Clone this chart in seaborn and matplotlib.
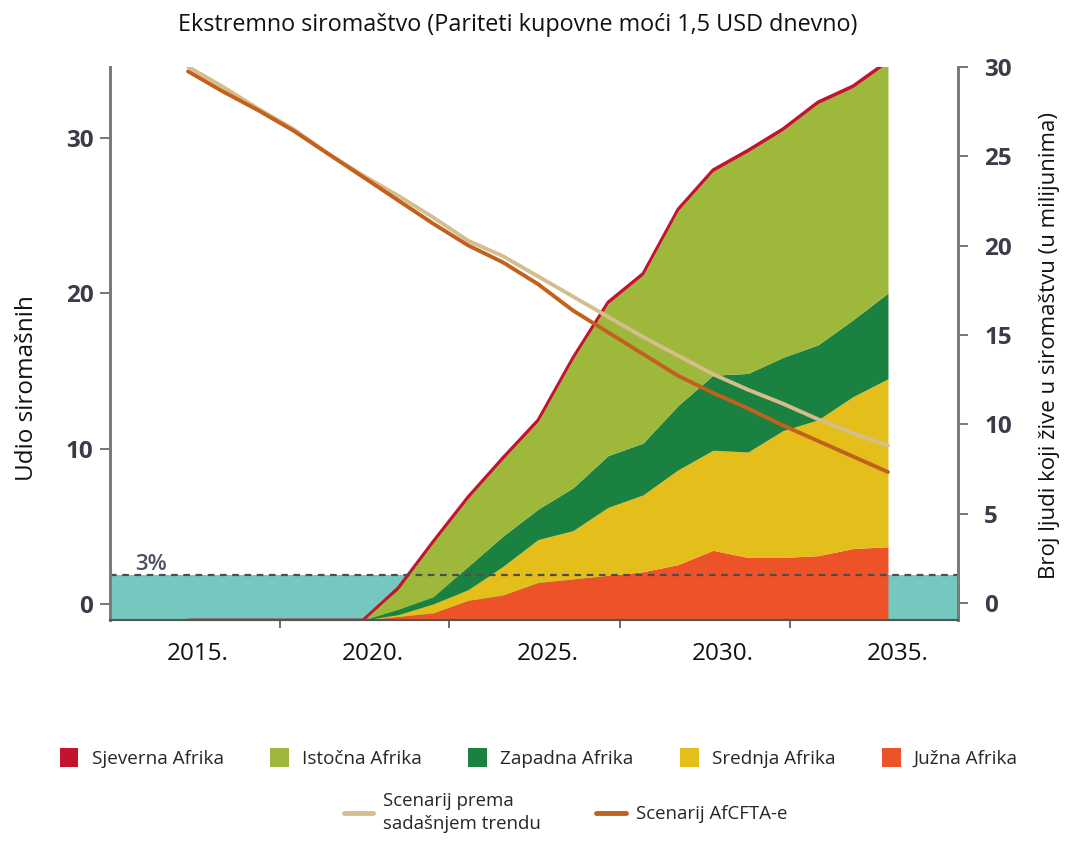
import matplotlib
matplotlib.use("Agg")
import matplotlib.pyplot as plt
import matplotlib.transforms as mtransforms
from matplotlib.patches import Patch
from matplotlib.lines import Line2D
import seaborn as sns
import numpy as np
import pandas as pd

sns.set_theme(style="white")
plt.rcParams['font.family'] = ['Open Sans', 'DejaVu Sans']

# --- data ---
years = [2015, 2016, 2017, 2018, 2019, 2020, 2021, 2022, 2023, 2024, 2025,
         2026, 2027, 2028, 2029, 2030, 2031, 2032, 2033, 2034, 2035]

# share of poor (left axis)
trend_share = [34.6, 33.3, 31.9, 30.6, 29.0, 27.6, 26.3, 24.9, 23.4, 22.4, 21.1,
               19.8, 18.5, 17.2, 16.0, 14.8, 13.8, 12.9, 11.9, 11.0, 10.2]
afcfta_share = [34.3, 33.0, 31.8, 30.5, 29.0, 27.5, 26.0, 24.5, 23.1, 22.0, 20.6,
                18.9, 17.5, 16.1, 14.7, 13.6, 12.6, 11.5, 10.5, 9.5, 8.5]

# people in poverty by region, millions (right axis), stacked
juzna = [0, 0, 0, 0, 0, 0, 0.2, 0.4, 1.1, 1.4, 2.1,
         2.3, 2.5, 2.7, 3.1, 3.9, 3.5, 3.5, 3.6, 4.0, 4.1]
srednja = [0, 0, 0, 0, 0, 0, 0.1, 0.5, 0.6, 1.6, 2.4,
           2.7, 3.8, 4.3, 5.3, 5.6, 5.9, 7.1, 7.6, 8.5, 9.4]
zapadna = [0, 0, 0, 0, 0, 0, 0.3, 0.4, 1.3, 1.7, 1.7,
           2.4, 2.9, 2.9, 3.6, 4.2, 4.4, 4.1, 4.2, 4.3, 4.8]
istocna = [0, 0, 0, 0, 0, 0, 1.1, 3.0, 3.8, 4.3, 4.9,
           7.2, 8.5, 9.4, 10.9, 11.4, 12.4, 12.7, 13.5, 13.0, 12.9]
sjeverna = [0, 0, 0, 0, 0, 0, 0.1, 0.1, 0.1, 0.1, 0.1,
            0.1, 0.1, 0.1, 0.1, 0.1, 0.1, 0.1, 0.1, 0.1, 0.1]

regions = ["Južna Afrika", "Srednja Afrika", "Zapadna Afrika", "Istočna Afrika", "Sjeverna Afrika"]
region_colors = ["#EE5229", "#E4BF1C", "#1B8140", "#9EB83B", "#C2142E"]
legend_order = ["Sjeverna Afrika", "Istočna Afrika", "Zapadna Afrika", "Srednja Afrika", "Južna Afrika"]

scenarios = ["Scenarij prema\nsadašnjem trendu", "Scenarij AfCFTA-e"]
scenario_colors = ["#D6BD8E", "#C2601D"]

threshold_label = "3%"
threshold_right = 1.57   # position of dashed line on right scale

# --- figure ---
fig = plt.figure(figsize=(10.65, 8.41), dpi=100)
ax = fig.add_axes([0.1033, 0.2628, 0.7962, 0.6575])   # right scale (areas)
axl = ax.twinx()                                       # left scale (lines)

right_floor = -0.95
ax.set_ylim(right_floor, 30)
axl.set_ylim(-1.03, 34.58)
ax.set_xlim(2012.77, 2037.0)

# teal band + stacked areas
ax.axhspan(right_floor, threshold_right, color="#74C8BF", zorder=0, lw=0)
layers = [juzna, srednja, zapadna, istocna, sjeverna]
base = np.full(len(years), right_floor)
for vals, col in zip(layers, region_colors):
    top = base + np.array(vals)
    ax.fill_between(years, base, top, color=col, lw=0, zorder=1)
    base = top
ax.plot(years, base, color=region_colors[-1], lw=2, zorder=2)
ax.axhline(threshold_right, color="#4d4d4d", lw=1.6, ls=(0, (3, 2.5)), zorder=3)
ax.text(2013.5, threshold_right + 0.3, threshold_label, fontsize=16, color="#4a5066",
        fontweight="semibold", zorder=4)

# scenario lines
lines_df = pd.DataFrame({
    "year": years * 2,
    "share": trend_share + afcfta_share,
    "scenario": [scenarios[0]] * len(years) + [scenarios[1]] * len(years),
})
sns.lineplot(data=lines_df, x="year", y="share", hue="scenario",
             palette=dict(zip(scenarios, scenario_colors)), lw=2.8, ax=axl, legend=False)

# axes cosmetics
ax.yaxis.tick_right()
ax.yaxis.set_label_position("right")
axl.yaxis.tick_left()
axl.yaxis.set_label_position("left")

ax.set_yticks([0, 5, 10, 15, 20, 25, 30])
axl.set_yticks([0, 10, 20, 30])
ax.set_xticks([2015, 2020, 2025, 2030, 2035])
ax.set_xticklabels(["2015.", "2020.", "2025.", "2030.", "2035."])
ax.set_xticks([2017.63, 2022.46, 2027.34, 2032.2], minor=True)

tick_col = "#3c3c48"
ax.tick_params(axis="y", which="major", right=True, length=7, width=1.4, color="#777777",
               labelsize=17.5, labelcolor=tick_col, pad=12)
axl.tick_params(axis="y", which="major", left=True, length=7, width=1.4, color="#777777",
                labelsize=17.5, labelcolor=tick_col, pad=5)
for lbl in ax.get_yticklabels() + axl.get_yticklabels():
    lbl.set_fontweight("bold")
ax.tick_params(axis="x", which="major", bottom=True, length=0, labelsize=17.5, labelcolor="#111111", pad=16)
ax.tick_params(axis="x", which="minor", bottom=True, length=6, width=1.2, color="#555555")
shift = mtransforms.ScaledTranslation(10 / 100, 0, fig.dpi_scale_trans)
for lbl in ax.get_xticklabels():
    lbl.set_transform(lbl.get_transform() + shift)

for a in (ax, axl):
    a.spines["top"].set_visible(False)
    a.spines["left"].set_color("#7a7a7a")
    a.spines["right"].set_color("#7a7a7a")
    a.spines["left"].set_linewidth(2)
    a.spines["right"].set_linewidth(2)
    a.spines["bottom"].set_color("#555555")
    a.spines["bottom"].set_linewidth(1.5)
    a.grid(False)

axl.set_ylabel("Udio siromašnih", fontsize=17.5, color="#111111")
axl.yaxis.set_label_coords(-0.084, 0.42)
ax.set_ylabel("Broj ljudi koji žive u siromaštvu (u milijunima)", fontsize=16,
              color="#111111", rotation=90)
ax.yaxis.set_label_coords(1.096, 0.497)
axl.set_xlabel("")
ax.set_xlabel("")

fig.text(0.486, 0.970, "Ekstremno siromaštvo (Pariteti kupovne moći 1,5 USD dnevno)",
         ha="center", va="center", fontsize=16.8, color="#111111")

# legends
patch_handles = [Patch(facecolor=region_colors[regions.index(r)], edgecolor="none") for r in legend_order]
leg1 = fig.legend(patch_handles, legend_order, loc="center left", bbox_to_anchor=(0.04, 0.099),
                  ncol=5, frameon=False, fontsize=13.6, handlelength=1.0, handleheight=1.15,
                  handletextpad=0.7, columnspacing=2.45)
line_handles = [Line2D([0], [0], color=c, lw=3.5) for c in scenario_colors]
leg2 = fig.legend(line_handles, scenarios, loc="center left", bbox_to_anchor=(0.307, 0.034),
                  ncol=2, frameon=False, fontsize=13.4, handlelength=1.6,
                  handletextpad=0.5, columnspacing=3.0)
for t in leg2.get_texts():
    t.set_linespacing(1.4)

fig.savefig("out.png", dpi=100)
